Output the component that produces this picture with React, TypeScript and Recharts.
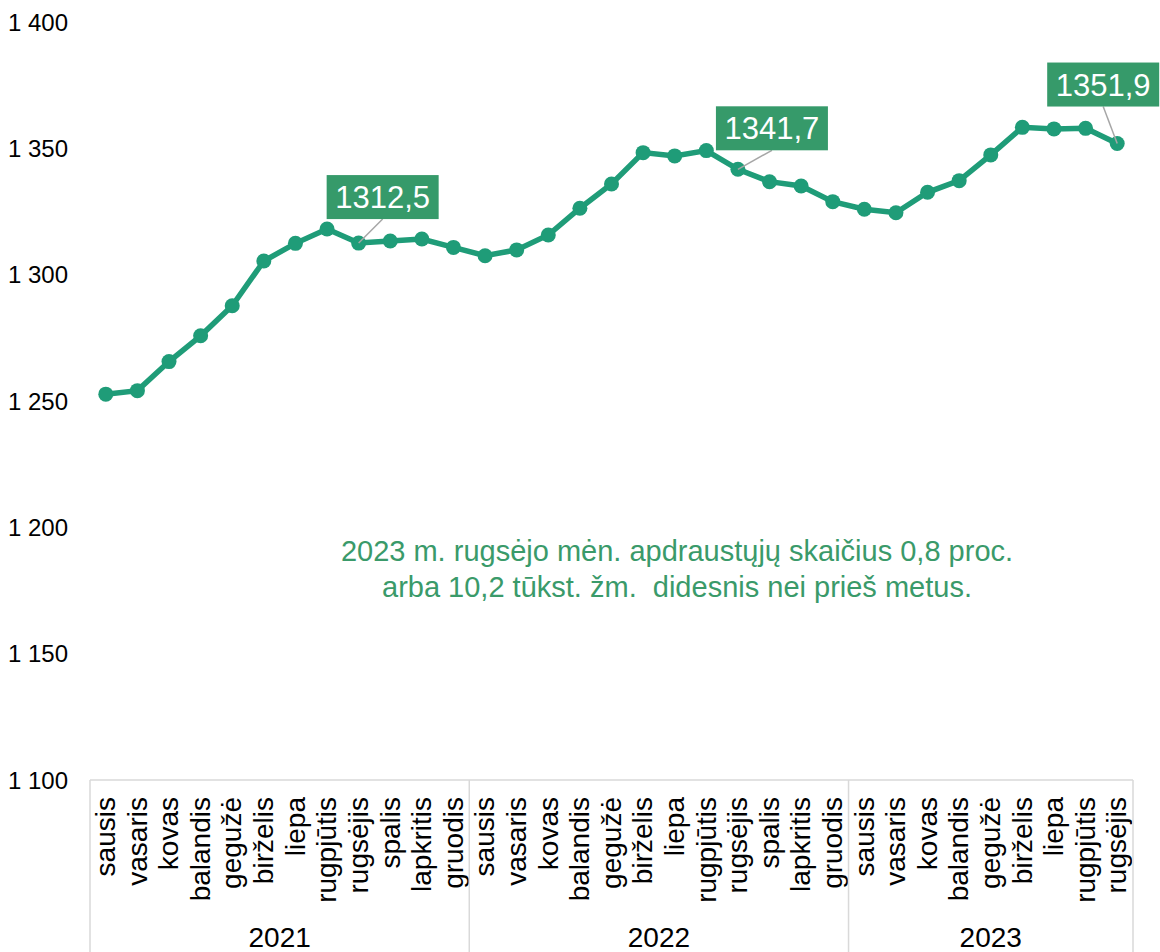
import React from "react";
import { LineChart, Line, XAxis, YAxis, LabelList } from "recharts";

const years = ["2021", "2022", "2023"];

const monthNames = [
    "sausis",
    "vasaris",
    "kovas",
    "balandis",
    "gegužė",
    "birželis",
    "liepa",
    "rugpjūtis",
    "rugsėjis",
    "spalis",
    "lapkritis",
    "gruodis",
];

// apdraustųjų skaičius, tūkst.
const insured2021 = [1252.7, 1254.1, 1265.6, 1275.8, 1287.7, 1305.4, 1312.4, 1318.1, 1312.5, 1313.3, 1314.1, 1310.8];
const insured2022 = [1307.5, 1309.8, 1315.7, 1326.3, 1335.9, 1348.3, 1347.0, 1349.1, 1341.7, 1336.8, 1335.1, 1328.9];
const insured2023 = [1325.9, 1324.5, 1332.6, 1337.2, 1347.4, 1358.3, 1357.7, 1357.9, 1351.9];

const yTicks = [1100, 1150, 1200, 1250, 1300, 1350, 1400];

// tik rugsėjo mėnesiai pažymimi
const labelledMonth = "rugsėjis";

const noteLines = [
    "2023 m. rugsėjo mėn. apdraustųjų skaičius 0,8 proc.",
    "arba 10,2 tūkst. žm.  didesnis nei prieš metus.",
];

const series = [insured2021, insured2022, insured2023];

const rows = series.flatMap((values, yi) =>
    values.map((v, mi) => ({
        key: `${years[yi]}-${monthNames[mi]}`,
        year: years[yi],
        month: monthNames[mi],
        value: v,
        first: mi === 0,
        groupStart: 0,
        groupEnd: 0,
        label: monthNames[mi] === labelledMonth ? v.toFixed(1).replace(".", ",") : null,
    }))
);

// grupių ribos metams
rows.forEach((r) => {
    const start = rows.findIndex((q) => q.year === r.year);
    let end = start;
    while (end + 1 < rows.length && rows[end + 1].year === r.year) end++;
    r.groupStart = start;
    r.groupEnd = end;
});

const LINE = "#1f9c78";
const BOX = "#369a6a";
const AXIS_GREY = "#d9d9d9";
const FONT = "'Liberation Sans', Arial, sans-serif";

const calloutShift: Record<number, [number, number]> = {
    8: [24, -46],
    20: [34, -41],
    32: [-14, -59],
};

const fmtThousands = (v: number) => {
    const s = String(v);
    return s.length > 3 ? `${s.slice(0, -3)} ${s.slice(-3)}` : s;
};

const MonthTick = (props: any) => {
    const { x, y, payload } = props;
    const i = payload.index;
    const r = rows[i];
    if (!r) return null;
    const half = payload.offset || 15.8;
    const mid = (r.groupStart + r.groupEnd) / 2;
    const showYear = i === Math.floor(mid);
    const yearX = x + (mid - Math.floor(mid)) * 2 * half;
    return (
        <g>
            <text
                transform={`translate(${x},${y + 17}) rotate(-90)`}
                dy="0.33em"
                textAnchor="end"
                fontSize={28}
                fontFamily={FONT}
                fill="#000"
            >
                {r.month}
            </text>
            {r.first && <line x1={x - half} x2={x - half} y1={y} y2={y + 172} stroke={AXIS_GREY} strokeWidth={1.5} />}
            {i === rows.length - 1 && (
                <line x1={x + half} x2={x + half} y1={y} y2={y + 172} stroke={AXIS_GREY} strokeWidth={1.5} />
            )}
            {showYear && (
                <text x={yearX} y={y + 167} textAnchor="middle" fontSize={28} fontFamily={FONT} fill="#000">
                    {r.year}
                </text>
            )}
        </g>
    );
};

const Callout = (props: any) => {
    const { x, y, value, index } = props;
    if (value == null) return null;
    const [dx, dy] = calloutShift[index] || [0, -50];
    const cx = x + dx;
    const cy = y + dy;
    const w = 112;
    const h = 44;
    return (
        <g>
            <line x1={x} y1={y} x2={cx} y2={cy + h / 2} stroke="#a6a6a6" strokeWidth={1.5} />
            <rect x={cx - w / 2} y={cy - h / 2} width={w} height={h} fill={BOX} />
            <text
                x={cx}
                y={cy}
                dy="0.36em"
                textAnchor="middle"
                fontSize={31}
                fontFamily={FONT}
                fill="#fff"
            >
                {value}
            </text>
        </g>
    );
};

export default function App() {
    return (
        <div style={{ position: "absolute", left: 0, top: 0, width: 1160, height: 952, background: "#fff" }}>
            <LineChart width={1160} height={952} data={rows} margin={{ top: 22, right: 27, left: 8, bottom: 0 }}>
                <XAxis
                    dataKey="key"
                    scale="band"
                    interval={0}
                    height={172}
                    tickLine={false}
                    tickSize={0}
                    tickMargin={0}
                    axisLine={{ stroke: AXIS_GREY, strokeWidth: 1.5 }}
                    tick={<MonthTick />}
                />
                <YAxis
                    domain={[1100, 1400]}
                    ticks={yTicks}
                    width={82}
                    axisLine={false}
                    tickLine={false}
                    tickSize={0}
                    tickMargin={22}
                    tickFormatter={fmtThousands}
                    tick={{ fill: "#000", fontSize: 24, fontFamily: FONT }}
                />
                <Line
                    type="linear"
                    dataKey="value"
                    stroke={LINE}
                    strokeWidth={5.5}
                    dot={{ r: 7.5, fill: LINE, stroke: LINE, strokeWidth: 0 }}
                    activeDot={false}
                    isAnimationActive={false}
                >
                    <LabelList dataKey="label" content={<Callout />} />
                </Line>
            </LineChart>
            <div
                style={{
                    position: "absolute",
                    left: 227,
                    top: 533,
                    width: 900,
                    textAlign: "center",
                    color: "#3a9a6a",
                    fontFamily: FONT,
                    fontSize: 29,
                    lineHeight: "36px",
                }}
            >
                {noteLines.map((t) => (
                    <div key={t} style={{ whiteSpace: "pre" }}>
                        {t}
                    </div>
                ))}
            </div>
        </div>
    );
}
